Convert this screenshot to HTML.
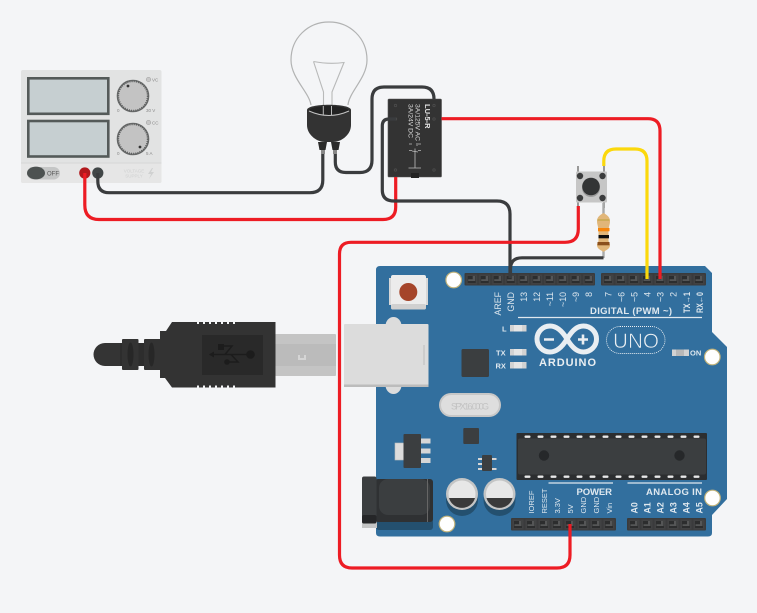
<!DOCTYPE html>
<html><head><meta charset="utf-8">
<style>
html,body{margin:0;padding:0;background:#f4f5f7;width:757px;height:613px;overflow:hidden}
svg{display:block}
text{font-family:"Liberation Sans",sans-serif}
.lab{fill:#dfe8ef;font-size:8.8px;text-anchor:end}
.labs{fill:#dfe8ef;font-size:8.8px;text-anchor:start}
.w{fill:none;stroke-width:3.2;stroke-linecap:butt}
</style></head><body>
<svg width="757" height="613" viewBox="0 0 757 613" xmlns="http://www.w3.org/2000/svg">
<defs>
<g id="p"><rect x="-5.5" y="-4.5" width="11" height="10" fill="#414243"/><path d="M-4-3h8v7h-8z" fill="#2c2d2e"/><path d="M1-3h2.5v5h-7v-1.8h4.500z" fill="#555657"/></g>
<g id="tp"><rect x="-5.500" y="-5" width="6" height="2.400" rx="1" fill="#e8e8e8"/></g>
</defs>
<rect width="757" height="613" fill="#f4f5f7"/>

<!-- power supply -->
<rect x="21" y="70" width="140.500" height="113" rx="2" fill="#e2e3e3"/>
<path d="M21 163h140.500v18a2 2 0 0 1-2 2h-136.500a2 2 0 0 1-2-2z" fill="#e6e6e6"/>
<path d="M21 163h140.500" stroke="#d6d7d7" stroke-width="1"/>
<rect x="28.300" y="78.300" width="80" height="35.500" fill="#c6cfd1" stroke="#545a59" stroke-width="2.600"/>
<rect x="28.300" y="121" width="80" height="35.500" fill="#c6cfd1" stroke="#545a59" stroke-width="2.600"/>
<circle cx="133" cy="96" r="15.500" fill="#c3c3c3" stroke="#6a6c6c" stroke-width="1.600"/>
<circle cx="133" cy="96" r="14.800" fill="none" stroke="#5c5e5e" stroke-width="2" stroke-dasharray="1 1.200"/>
<circle cx="128" cy="86" r="1.400" fill="#333"/>
<circle cx="133" cy="139" r="15.500" fill="#c3c3c3" stroke="#6a6c6c" stroke-width="1.600"/>
<circle cx="133" cy="139" r="14.800" fill="none" stroke="#5c5e5e" stroke-width="2" stroke-dasharray="1 1.200"/>
<circle cx="140" cy="147" r="1.400" fill="#333"/>
<circle cx="148.500" cy="79.500" r="2.200" fill="#c8c8c8" stroke="#aaa" stroke-width=".7"/>
<circle cx="148.500" cy="122.500" r="2.200" fill="#c8c8c8" stroke="#aaa" stroke-width=".7"/>
<text x="152" y="81.500" font-size="4.500" fill="#888">VC</text>
<text x="152" y="124.500" font-size="4.500" fill="#888">CC</text>
<text x="117" y="112" font-size="4.500" fill="#888">0</text>
<text x="146" y="112" font-size="4.500" fill="#888">30 V</text>
<text x="117" y="155" font-size="4.500" fill="#888">0</text>
<text x="146" y="155" font-size="4.500" fill="#888">5 A</text>
<rect x="27" y="167" width="33" height="12.500" rx="6.250" fill="#c5c6c6"/>
<ellipse cx="36" cy="173" rx="9" ry="6.400" fill="#4d5251"/>
<text x="47" y="175.300" font-size="6" fill="#555">OFF</text>
<text x="134" y="172.500" font-size="4.500" fill="#cfd0d0" text-anchor="middle">VOLTAGE</text>
<text x="134" y="177.500" font-size="4.500" fill="#cfd0d0" text-anchor="middle">SUPPLY</text>
<path d="M152 168l-4 6h3l-2 5 5-7h-3l2-4z" fill="#d0d1d1"/>
<circle cx="84.800" cy="173" r="5.600" fill="#b2191d"/>
<circle cx="97.800" cy="173" r="5.600" fill="#414647"/>

<!-- bulb -->
<path d="M311 105C309 92 291 78 291 60C291 38 308 22 329 22C350 22 367 38 367 60C367 78 349 92 348 105" fill="none" stroke="#b2b3b3" stroke-width="1.200"/>
<path d="M313.500 61.500Q329 64.500 344 62.500L332 92V115M313.500 61.500L323.500 92V115" fill="none" stroke="#b8b9b9" stroke-width="1.100"/>
<path d="M307 110C307 103 351 103 351 110V125C351 135 341 142 333 142H325C317 142 307 135 307 125z" fill="#333"/>
<ellipse cx="329" cy="110.500" rx="20" ry="4.500" fill="#222" />
<path d="M309 111Q329 120 349 111" fill="none" stroke="#c3c3c3" stroke-width="1"/>
<path d="M323.300 106V115M331.500 106V115" stroke="#b8b9b9" stroke-width="1"/>
<path d="M318 142h9l-1.500 8h-6zM331 142h9l-1.500 8h-6z" fill="#2b2b2b"/>
<path d="M321 150h4v4h-4zM333 150h4v4h-4z" fill="#888"/>

<!-- USB plug -->
<rect x="275" y="334" width="61" height="42" rx="1" fill="#c4c4c4"/>
<rect x="275" y="344" width="61" height="22" fill="#bbb"/>
<path d="M298 355h2v3h4v-3h2v5h-8z" fill="#d5d5d5"/>
<path d="M105 343H122V366H105A11.500 11.500 0 0 1 105 343z" fill="#343434"/>
<rect x="120" y="343" width="42" height="23" fill="#2d2d2d"/>
<rect x="122" y="339" width="16.500" height="31" rx="1" fill="#333"/>
<rect x="144" y="339" width="17" height="31" rx="1" fill="#333"/>
<ellipse cx="130.500" cy="354.500" rx="3" ry="12" fill="#272727"/>
<ellipse cx="151.500" cy="354.500" rx="3" ry="12" fill="#272727"/>
<path d="M172 322H275.500V387.500H172L165 378H160V331H166z" fill="#333"/>
<rect x="202" y="335" width="61" height="40" fill="#292929"/>
<path d="M210 354.500H250M225 354.500L232 346H218M231 354.500L238 362H227" fill="none" stroke="#1c1c1c" stroke-width="1.500"/>
<circle cx="250.500" cy="354.500" r="4.300" fill="#1c1c1c"/>
<circle cx="227" cy="362" r="2.800" fill="#1c1c1c"/>
<rect x="218" y="344" width="6" height="6" fill="#1c1c1c"/>
<path d="M209 354.500l5-3v6z" fill="#1c1c1c"/>
<path d="M197 322v2h2v-2zM203 322v2h2v-2zM209 322v2h2v-2zM215 322v2h2v-2zM221 322v2h2v-2zM227 322v2h2v-2zM233 322v2h2v-2zM197 385.500v2h2v-2zM203 385.500v2h2v-2zM209 385.500v2h2v-2zM215 385.500v2h2v-2zM221 385.500v2h2v-2zM227 385.500v2h2v-2zM233 385.500v2h2v-2z" fill="#f4f5f7"/>

<!-- Arduino board -->
<path d="M380 266H705L712 273V332L727 347V499L712 515V533Q712 536.500 708 536.500H380Q376 536.500 376 533V270Q376 266 380 266z" fill="#326f9e"/>
<circle cx="453.700" cy="280" r="7.800" fill="#fff" stroke="#c0b27a" stroke-width="1.200"/>
<circle cx="712.300" cy="357" r="7.800" fill="#fff" stroke="#c0b27a" stroke-width="1.200"/>
<circle cx="447" cy="524" r="7.800" fill="#fff" stroke="#c0b27a" stroke-width="1.200"/>
<circle cx="712.500" cy="498" r="7.800" fill="#fff" stroke="#c0b27a" stroke-width="1.200"/>

<!-- headers -->
<rect x="464.500" y="273" width="130.500" height="12.500" rx="1" fill="#3a3b3c"/>
<rect x="601" y="273" width="105" height="12.500" rx="1" fill="#3a3b3c"/>
<rect x="511" y="518" width="105" height="12.500" rx="1" fill="#3a3b3c"/>
<rect x="627" y="518" width="79" height="12.500" rx="1" fill="#3a3b3c"/>
<g transform="translate(0,279)">
<use href="#p" x="471.700"/><use href="#p" x="484.700"/><use href="#p" x="497.700"/><use href="#p" x="510.700"/><use href="#p" x="523.700"/><use href="#p" x="536.700"/><use href="#p" x="549.700"/><use href="#p" x="562.700"/><use href="#p" x="575.700"/><use href="#p" x="588.700"/>
<use href="#p" x="608"/><use href="#p" x="621"/><use href="#p" x="634"/><use href="#p" x="647"/><use href="#p" x="660"/><use href="#p" x="673"/><use href="#p" x="686"/><use href="#p" x="699"/>
</g>
<g transform="translate(0,524)">
<use href="#p" x="518"/><use href="#p" x="531"/><use href="#p" x="544"/><use href="#p" x="557"/><use href="#p" x="570"/><use href="#p" x="583"/><use href="#p" x="596"/><use href="#p" x="609"/>
<use href="#p" x="634"/><use href="#p" x="647"/><use href="#p" x="660"/><use href="#p" x="673"/><use href="#p" x="686"/><use href="#p" x="699"/>
</g>

<!-- top labels -->
<text class="lab" transform="translate(501,292) rotate(-90)">AREF</text>
<text class="lab" transform="translate(514,292) rotate(-90)">GND</text>
<text class="lab" transform="translate(527,292) rotate(-90)">13</text>
<text class="lab" transform="translate(540,292) rotate(-90)">12</text>
<text class="lab" transform="translate(553,292) rotate(-90)">~11</text>
<text class="lab" transform="translate(566,292) rotate(-90)">~10</text>
<text class="lab" transform="translate(579,292) rotate(-90)">~9</text>
<text class="lab" transform="translate(592,292) rotate(-90)">8</text>
<text class="lab" transform="translate(611.500,292) rotate(-90)">7</text>
<text class="lab" transform="translate(624.500,292) rotate(-90)">~6</text>
<text class="lab" transform="translate(637.500,292) rotate(-90)">~5</text>
<text class="lab" transform="translate(650.500,292) rotate(-90)">4</text>
<text class="lab" transform="translate(663.500,292) rotate(-90)">~3</text>
<text class="lab" transform="translate(676.500,292) rotate(-90)">2</text>
<text class="lab" font-weight="bold" transform="translate(690,292) rotate(-90)" textLength="21" lengthAdjust="spacingAndGlyphs">TX→1</text>
<text class="lab" font-weight="bold" transform="translate(703,292) rotate(-90)" textLength="21" lengthAdjust="spacingAndGlyphs">RX←0</text>
<text x="590" y="314" font-size="9.500" font-weight="bold" textLength="82" fill="#dfe8ef">DIGITAL (PWM ~)</text>
<path d="M518 317.500H702" stroke="#dfe8ef" stroke-width="1.200"/>

<!-- LEDs -->
<rect x="510" y="325" width="16.500" height="6.500" fill="#d2d2d2"/><rect x="514" y="325" width="8" height="6.500" fill="#e5e5e5"/>
<rect x="510" y="349" width="16.500" height="6.500" fill="#d2d2d2"/><rect x="514" y="349" width="8" height="6.500" fill="#e5e5e5"/>
<rect x="510" y="362" width="16.500" height="6.500" fill="#d2d2d2"/><rect x="514" y="362" width="8" height="6.500" fill="#e5e5e5"/>
<rect x="672" y="349.500" width="17" height="6.500" fill="#d2d2d2"/><rect x="676" y="349.500" width="8" height="6.500" fill="#b8b8b8"/>
<text x="502" y="331.500" font-size="7.500" font-weight="bold" fill="#dfe8ef">L</text>
<text x="496" y="355.500" font-size="7.500" font-weight="bold" fill="#dfe8ef">TX</text>
<text x="495.500" y="368.500" font-size="7.500" font-weight="bold" fill="#dfe8ef">RX</text>
<text x="690" y="355.500" font-size="7.500" font-weight="bold" fill="#dfe8ef">ON</text>

<!-- logo -->
<path d="M567 339C561 329 555 326 550 326A13 13 0 0 0 550 352C555 352 561 349 567 339C573 329 578 326 583.500 326A13 13 0 0 1 583.500 352C578 352 573 349 567 339z" fill="none" stroke="#e9eef2" stroke-width="5"/>
<path d="M544 339.500h10M578 339.500h10M583 334.500v10" stroke="#e9eef2" stroke-width="2.600"/>
<text x="539" y="366" font-size="11" font-weight="bold" textLength="57" fill="#e9eef2">ARDUINO</text>
<rect x="606.500" y="326.500" width="58.500" height="27" rx="13.500" fill="none" stroke="#e9eef2" stroke-width=".9" stroke-dasharray="1 1"/>
<text x="636" y="348" font-size="21" text-anchor="middle" fill="#e9eef2" stroke="#326f9e" stroke-width=".6" textLength="46" lengthAdjust="spacingAndGlyphs">UNO</text>

<!-- reset -->
<rect x="389" y="278" width="3" height="27" fill="#d7d7d7"/><rect x="425" y="278" width="3" height="27" fill="#d7d7d7"/>
<rect x="391" y="275" width="35" height="34.500" rx="2" fill="#ececec"/>
<rect x="391" y="304" width="35" height="5.500" rx="2" fill="#d0d0d0"/>
<circle cx="408.300" cy="292" r="9" fill="#a5452a"/>

<!-- USB port -->
<ellipse cx="393.500" cy="326" rx="8" ry="9" fill="#dcdcdc"/>
<ellipse cx="393.500" cy="385" rx="8" ry="9" fill="#dcdcdc"/>
<rect x="344" y="324" width="84.500" height="63" rx="1" fill="#dcdcdc"/>
<rect x="344" y="384.500" width="84.500" height="2.500" fill="#bcbcbc"/>
<rect x="423.500" y="345" width="1" height="20" fill="#bbb"/>

<!-- chips -->
<rect x="461.500" y="349" width="27.500" height="28" rx="1.500" fill="#3b3e40"/>
<rect x="439" y="393" width="62" height="24" rx="12" fill="#c7c7c7"/>
<rect x="441" y="395" width="58" height="20" rx="10" fill="#dedede"/>
<text x="470" y="409.500" font-size="9" text-anchor="middle" fill="#c2c2c2" textLength="38">SPX16.000G</text>
<rect x="395" y="443" width="9" height="17" fill="#dcdcdc" stroke="#bbb" stroke-width=".6"/>
<rect x="403.500" y="434" width="17.500" height="34" rx="1" fill="#3b3e40"/>
<rect x="421" y="438.500" width="9.500" height="5" fill="#d6d6d6"/><rect x="421" y="448.500" width="9.500" height="5" fill="#d6d6d6"/><rect x="421" y="458" width="9.500" height="5" fill="#d6d6d6"/>
<rect x="463.300" y="428" width="15.700" height="16" rx="1" fill="#3b3e40"/>
<path d="M478 458h4v2h-4zM478 463h4v2h-4zM478 468h4v2h-4zM492 458h4.500v2h-4.500zM492 468h4.500v2h-4.500z" fill="#d6d6d6"/>
<rect x="482" y="455" width="10" height="16" rx="1" fill="#3b3e40"/>

<!-- ATmega -->
<rect x="516.500" y="433" width="190.500" height="47" rx="1" fill="#2c2e30"/>
<rect x="518" y="438.500" width="188" height="36" rx="2" fill="#3b3e40"/>
<g transform="translate(0,440.500)">
<use href="#tp" x="530"/><use href="#tp" x="543"/><use href="#tp" x="556"/><use href="#tp" x="569"/><use href="#tp" x="582"/><use href="#tp" x="595"/><use href="#tp" x="608"/><use href="#tp" x="621"/><use href="#tp" x="634"/><use href="#tp" x="647"/><use href="#tp" x="660"/><use href="#tp" x="673"/><use href="#tp" x="686"/><use href="#tp" x="699"/>
</g>
<g transform="translate(0,480.500)">
<use href="#tp" x="530"/><use href="#tp" x="543"/><use href="#tp" x="556"/><use href="#tp" x="569"/><use href="#tp" x="582"/><use href="#tp" x="595"/><use href="#tp" x="608"/><use href="#tp" x="621"/><use href="#tp" x="634"/><use href="#tp" x="647"/><use href="#tp" x="660"/><use href="#tp" x="673"/><use href="#tp" x="686"/><use href="#tp" x="699"/>
</g>
<circle cx="544" cy="455.500" r="5.200" fill="#26282a"/>
<circle cx="679.500" cy="455.500" r="5.200" fill="#26282a"/>

<!-- bottom labels -->
<path d="M548.500 483H613M627.500 483H702" stroke="#dfe8ef" stroke-width="1.200"/>
<text x="576.500" y="495" font-size="9.500" font-weight="bold" textLength="35.500" fill="#dfe8ef">POWER</text>
<text x="646" y="495" font-size="9.500" font-weight="bold" textLength="56" fill="#dfe8ef">ANALOG IN</text>
<text class="labs" transform="translate(534,513.500) rotate(-90)" style="font-size:7.500px">IOREF</text>
<text class="labs" transform="translate(547,513.500) rotate(-90)" style="font-size:7.500px">RESET</text>
<text class="labs" transform="translate(560,513.500) rotate(-90)" style="font-size:7.500px">3.3V</text>
<text class="labs" transform="translate(573,513.500) rotate(-90)" style="font-size:7.500px">5V</text>
<text class="labs" transform="translate(586,513.500) rotate(-90)" style="font-size:7.500px">GND</text>
<text class="labs" transform="translate(599,513.500) rotate(-90)" style="font-size:7.500px">GND</text>
<text class="labs" transform="translate(612,513.500) rotate(-90)" style="font-size:7.500px">Vin</text>
<text class="labs" font-weight="bold" transform="translate(637.500,513.500) rotate(-90)">A0</text>
<text class="labs" font-weight="bold" transform="translate(650.500,513.500) rotate(-90)">A1</text>
<text class="labs" font-weight="bold" transform="translate(663.500,513.500) rotate(-90)">A2</text>
<text class="labs" font-weight="bold" transform="translate(676.500,513.500) rotate(-90)">A3</text>
<text class="labs" font-weight="bold" transform="translate(689.500,513.500) rotate(-90)">A4</text>
<text class="labs" font-weight="bold" transform="translate(702.500,513.500) rotate(-90)">A5</text>

<!-- capacitors -->
<circle cx="462" cy="500" r="16" fill="#24506f"/>
<circle cx="499.500" cy="500" r="16" fill="#24506f"/>
<circle cx="462" cy="494" r="16" fill="#c4c5c5"/>
<circle cx="499.500" cy="494" r="16" fill="#c4c5c5"/>
<circle cx="462" cy="494" r="13.500" fill="#e7e7e7"/>
<circle cx="499.500" cy="494" r="13.500" fill="#e7e7e7"/>
<path d="M449 498H475A13.500 13.500 0 0 1 449 498z" fill="#3a3a3a"/>
<path d="M486.500 498H512.500A13.500 13.500 0 0 1 486.500 498z" fill="#3a3a3a"/>

<!-- jack -->
<rect x="376" y="500" width="57" height="30" rx="3" fill="#24506f"/>
<rect x="362" y="513" width="15" height="15" fill="#c4c5c5"/>
<rect x="375" y="479" width="58" height="43" rx="3" fill="#2f3133"/>
<rect x="379" y="479" width="51" height="36" rx="9" fill="#3b3e40"/>
<rect x="427" y="479" width="1" height="43" fill="#666"/>
<rect x="362" y="476.500" width="14.500" height="47" rx="2" fill="#3b3e40"/>
<rect x="362" y="515" width="14.500" height="8.500" rx="2" fill="#252628"/>

<!-- button -->
<path d="M578 166v8M604 166v8" stroke="#999" stroke-width="2"/>
<path d="M578 200v8M604 200v8" stroke="#999" stroke-width="2"/>
<rect x="576" y="171.500" width="31" height="31" rx="1" fill="#c6c6c6"/>
<circle cx="580" cy="176" r="3.200" fill="#3b3c3d"/><circle cx="602.500" cy="176" r="3.200" fill="#3b3c3d"/>
<circle cx="580" cy="198" r="3.200" fill="#3b3c3d"/><circle cx="602.500" cy="198" r="3.200" fill="#3b3c3d"/>
<circle cx="591" cy="188" r="9" fill="#9b9b9b"/>
<circle cx="591" cy="186.500" r="8.800" fill="#333435"/>

<!-- resistor -->
<path d="M603.500 203V216M603.500 248V258" stroke="#a9aaaa" stroke-width="2.400"/>
<path d="M603.500 213C607 215 610 217 610 221C610 225 608.500 226 608.500 232V240C608.500 243 610 243 610 245C610 249 606 250 603.500 252C601 250 597 249 597 245C597 243 598.500 243 598.500 240V232C598.500 226 597 225 597 221C597 217 600 215 603.500 213z" fill="#e1b679"/>
<rect x="597.500" y="219.500" width="12" height="1" fill="#b9a23c"/>
<rect x="598" y="228" width="11.500" height="3.300" fill="#f5850d"/>
<rect x="598.500" y="235" width="10.500" height="3.300" fill="#0d0d0d"/>
<rect x="597.500" y="242" width="12" height="3.300" fill="#8a4f1c"/>

<!-- relay -->
<rect x="388" y="99" width="53.500" height="78" rx="1" fill="#333"/>
<rect x="388" y="99" width="53.500" height="78" rx="1" fill="none" stroke="#555" stroke-width=".6"/>
<rect x="411" y="173" width="8" height="5" fill="#232323"/>
<g fill="none" stroke="#4c4c4c" stroke-width=".8">
<circle cx="395.500" cy="105.500" r="1.200"/><circle cx="434" cy="105.500" r="1.200"/><circle cx="395.500" cy="119" r="1.200"/><circle cx="434" cy="119" r="1.200"/><circle cx="395.500" cy="170" r="1.200"/><circle cx="434" cy="170" r="1.200"/>
</g>
<text transform="translate(425,104) rotate(90)" font-size="7.500" font-weight="bold" fill="#e6e6e6">LU-5-R</text>
<text transform="translate(415.500,104) rotate(90)" font-size="6.800" fill="#ddd">3A/125V AC</text>
<text transform="translate(408.500,104) rotate(90)" font-size="6.800" fill="#ddd">3A/24V DC</text>
<path d="M415 148.500V168M408.500 168H421M409 150.500h3M418 150.500h3M409 144h3M418 144h3M417 143v3M412 151l6 1" stroke="#bcbcbc" stroke-width=".8" fill="none"/>

<!-- wires -->
<path class="w" stroke="#3a3c3e" d="M97.800 173V181Q97.800 192.700 109 192.700H310Q322.800 192.700 322.800 180V154"/>
<path class="w" stroke="#ed1c24" d="M84.800 173V205Q84.800 219.500 99 219.500H383Q395.700 219.500 395.700 207V177"/>
<path class="w" stroke="#3a3c3e" d="M335.300 154V162Q335.300 172.500 346 172.500H360Q372 172.500 372 160V99Q372 87 384 87H422Q434 87 434 99"/>
<path class="w" stroke="#3a3c3e" d="M396 119H389Q382.300 119 382.300 126V190Q382.300 201 394 201H497Q510 201 510 214V278"/>
<path class="w" stroke="#3a3c3e" d="M603.500 257.800H522Q510.500 257.800 510.500 269V278"/>
<path class="w" stroke="#ed1c24" d="M441.500 118.700H648Q660 118.700 660 131V279"/>
<path class="w" stroke="#fbd80c" d="M603.800 166V161Q603.800 149 616 149H635Q647 149 647 161V279"/>
<path class="w" stroke="#ed1c24" d="M578.300 206V229Q578.300 242.300 565 242.300H351Q339.500 242.300 339.500 254V555Q339.500 568 352 568H557Q570 568 570 555V524"/>
</svg>
</body></html>
